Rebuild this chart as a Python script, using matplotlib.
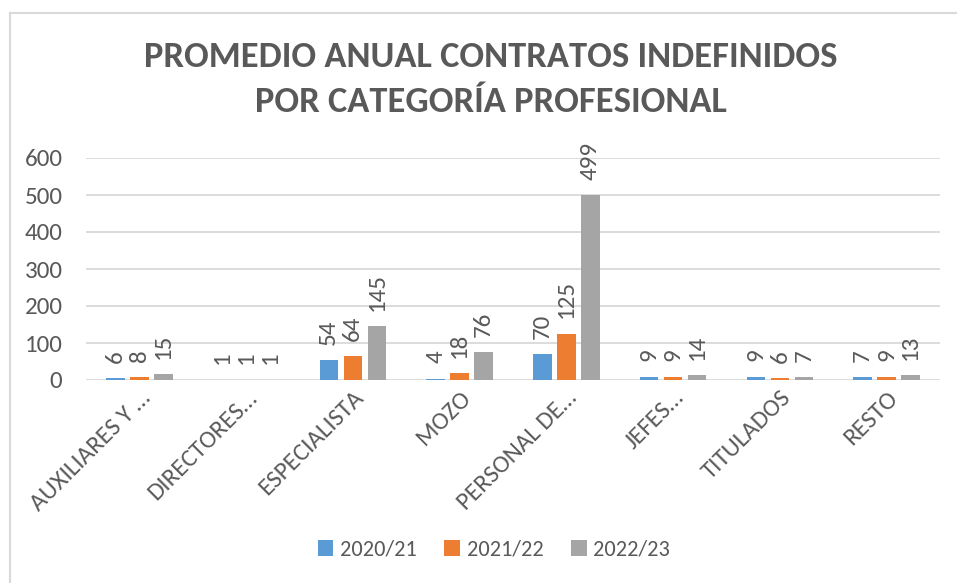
import matplotlib
matplotlib.use("Agg")
import matplotlib.pyplot as plt
import numpy as np
from matplotlib import font_manager
from matplotlib.lines import Line2D
from matplotlib.patches import Patch
import matplotlib.transforms as mtransforms

names = {f.name for f in font_manager.fontManager.ttflist}
FONT = "Carlito" if "Carlito" in names else "Lato"
plt.rcParams['font.family'] = [FONT, 'DejaVu Sans']

categories = ["AUXILIARES Y …", "DIRECTORES…", "ESPECIALISTA", "MOZO",
              "PERSONAL DE…", "JEFES…", "TITULADOS", "RESTO"]
series_names = ["2020/21", "2021/22", "2022/23"]
v2020 = [6, 1, 54, 4, 70, 9, 9, 7]
v2021 = [8, 1, 64, 18, 125, 9, 6, 9]
v2022 = [15, 1, 145, 76, 499, 14, 7, 13]
yticks = [0, 100, 200, 300, 400, 500, 600]
title_lines = ["PROMEDIO ANUAL CONTRATOS INDEFINIDOS", "POR CATEGORÍA PROFESIONAL"]

colors = ["#5B9BD5", "#ED7D31", "#A5A5A5"]
TXT = "#595959"
GRID = "#D9D9D9"

W, H = 957, 583
fig = plt.figure(figsize=(W / 100, H / 100), dpi=100)
ax = fig.add_axes([86 / W, 1 - 380 / H, (940 - 86) / W, (380 - 158) / H])

big = 15 if FONT == "Lato" else 18
x = np.arange(len(categories))
bw = 0.175
pitch = 0.225
for i, (vals, c) in enumerate(zip([v2020, v2021, v2022], colors)):
    pos = x + (i - 1) * pitch
    ax.bar(pos, vals, width=bw, color=c, zorder=3, label=series_names[i])
    for p, v in zip(pos, vals):
        ax.annotate(str(v), (p, v), xytext=(0, 11), textcoords="offset points",
                    rotation=90, ha="center", va="bottom", fontsize=big, color=TXT)

ax.set_xlim(-0.5, len(categories) - 0.5)
ax.set_ylim(0, 600)
ax.set_yticks(yticks)
ax.yaxis.grid(True, color=GRID, linewidth=1.3, zorder=0)
ax.set_axisbelow(True)
for s in ax.spines.values():
    s.set_visible(False)
ax.tick_params(axis="both", length=0, labelsize=big, colors=TXT)
ax.tick_params(axis="y", pad=17)
ax.set_xticks(x)
ax.set_xticklabels(categories, rotation=45, ha="right", va="top",
                   rotation_mode="anchor")
ax.tick_params(axis="x", pad=5)
offset = mtransforms.ScaledTranslation(0, 0, fig.dpi_scale_trans)
for lab in ax.get_xticklabels():
    lab.set_transform(lab.get_transform() + offset)

tsize = 21 if FONT == "Lato" else 26.3
fig.text(490.5 / W, 1 - 57 / H, title_lines[0], ha="center", va="center",
         fontsize=tsize, fontweight="bold", color=TXT)
fig.text(490.5 / W, 1 - 102.5 / H, title_lines[1], ha="center", va="center",
         fontsize=tsize, fontweight="bold", color=TXT)

handles = [Patch(facecolor=c, edgecolor="none") for c in colors]
fig.legend(handles, series_names, loc="center", bbox_to_anchor=(494 / W, 1 - 550 / H),
           ncol=3, frameon=False, fontsize=big - 2, labelcolor=TXT,
           handlelength=0.7, handleheight=0.7, handletextpad=0.3, columnspacing=1.25)

# chart border (clipped at right and bottom)
fig.add_artist(Line2D([10 / W, 1.0], [1 - 13 / H, 1 - 13 / H], color=GRID, linewidth=1.5,
                      transform=fig.transFigure))
fig.add_artist(Line2D([10 / W, 10 / W], [1 - 13 / H, 0.0], color=GRID, linewidth=1.5,
                      transform=fig.transFigure))

fig.savefig("out.png", dpi=100, facecolor="white")
